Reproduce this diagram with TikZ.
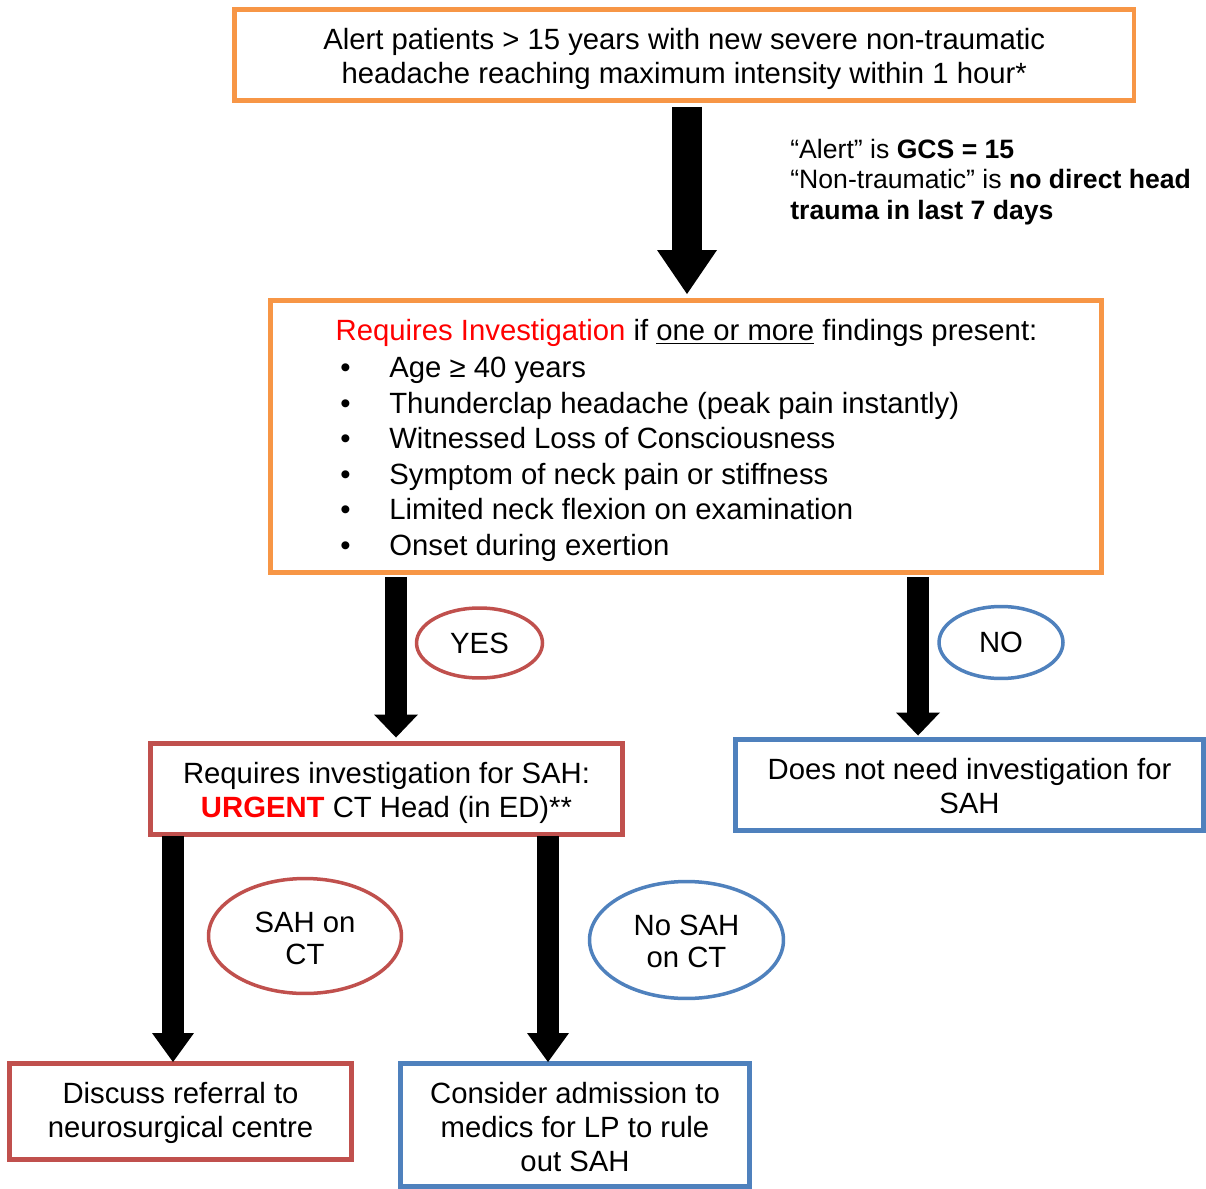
\documentclass[tikz,border=0pt]{standalone}
\usepackage{fontspec}
\setmainfont{Liberation Sans}
\usetikzlibrary{arrows.meta,shapes.geometric,calc}
\definecolor{orangeb}{HTML}{F79646}
\definecolor{redb}{HTML}{C0504D}
\definecolor{blueb}{HTML}{4F81BD}
\definecolor{hotred}{HTML}{FF0000}
\newcommand\fsmain{\fontsize{16.67}{19.35}\selectfont}
\newcommand\fslist{\fontsize{16.67}{20.26}\selectfont}
\newcommand\fsoval{\fontsize{16.67}{18.21}\selectfont}
\newcommand\fsnote{\fontsize{15.14}{17.36}\selectfont}
\begin{document}
\begin{tikzpicture}[x=0.02cm,y=-0.02cm,
  box/.style={draw, line width=0.09cm, rectangle, inner sep=0pt, outer sep=0pt, align=center, font=\fsmain},
  boxtext/.style={align=center, font=\fsmain, inner sep=0pt},
  oval/.style={draw, ellipse, line width=0.07cm, inner sep=0pt, outer sep=0pt, align=center, font=\fsoval},
  bigarrow/.style={line width=0.6cm, -{Triangle[width=1.2cm,length=0.88cm,line width=0pt]}},
  midarrow/.style={line width=0.44cm, -{Triangle[width=0.88cm,length=0.46cm,line width=0pt]}},
  lowarrow/.style={line width=0.43cm, -{Triangle[width=0.84cm,length=0.58cm,line width=0pt]}},
]
\fill[white] (0,0) rectangle (1206,1189);
\useasboundingbox (0,0) rectangle (1206,1189);

% boxes
\node[box, draw=orangeb, minimum width=17.99cm, minimum height=1.82cm,
  label={[boxtext, yshift=-0.08cm]center:{Alert patients > 15 years with new severe non-traumatic\\headache reaching maximum intensity within 1 hour*}}] (b1) at (684.25,55) {};
\node[box, draw=orangeb, minimum width=16.62cm, minimum height=5.44cm] (b2) at (686,436.5) {};
\node[font=\fsmain, inner sep=0pt, anchor=base] (b2head) at (686.5,340.5)
  {\textcolor{hotred}{Requires Investigation} if \underline{one or more} findings present:};
\node[font=\fslist, inner sep=0pt, anchor=base west, align=left] (b2list) at (340,555.5)
  {\makebox[0.98cm][l]{\textbullet}Age ≥ 40 years\\
   \makebox[0.98cm][l]{\textbullet}Thunderclap headache (peak pain instantly)\\
   \makebox[0.98cm][l]{\textbullet}Witnessed Loss of Consciousness\\
   \makebox[0.98cm][l]{\textbullet}Symptom of neck pain or stiffness\\
   \makebox[0.98cm][l]{\textbullet}Limited neck flexion on examination\\
   \makebox[0.98cm][l]{\textbullet}Onset during exertion};

\node[font=\fsnote, inner sep=0pt, anchor=base west, align=left] (note) at (790,219.5)
  {“Alert” is \textbf{GCS = 15}\\
   “Non-traumatic” is \textbf{no direct head}\\
   \textbf{trauma in last 7 days}};

\node[box, draw=redb, minimum width=9.44cm, minimum height=1.82cm,
  label={[boxtext, yshift=-0.08cm]center:{Requires investigation for SAH:\\\textcolor{hotred}{\bfseries URGENT} CT Head (in ED)**}}] (sah) at (386.5,789) {};
\node[box, draw=blueb, minimum width=9.36cm, minimum height=1.82cm,
  label={[boxtext, yshift=-0.02cm]center:{Does not need investigation for\\SAH}}] (noneed) at (969.5,785) {};
\node[box, draw=redb, minimum width=6.84cm, minimum height=1.92cm,
  label={[boxtext, yshift=-0.02cm]center:{Discuss referral to\\neurosurgical centre}}] (disc) at (180.5,1111.5) {};
\node[box, draw=blueb, minimum width=6.98cm, minimum height=2.46cm,
  label={[boxtext, yshift=-0.04cm]center:{Consider admission to\\medics for LP to rule\\out SAH}}] (cons) at (575,1125) {};

% ovals
\node[oval, draw=redb, minimum width=2.52cm, minimum height=1.40cm] (yes) at (479.5,643) {YES};
\node[oval, draw=blueb, minimum width=2.48cm, minimum height=1.44cm] (no) at (1001,642.5) {NO};
\node[oval, draw=redb, minimum width=3.86cm, minimum height=2.30cm,
  label={[align=center, font=\fsoval, inner sep=0pt, yshift=-0.04cm]center:{SAH on\\CT}}] (sahct) at (305,936) {};
\node[oval, draw=blueb, minimum width=3.88cm, minimum height=2.34cm,
  label={[align=center, font=\fsoval, inner sep=0pt, yshift=-0.02cm]center:{No SAH\\on CT}}] (nosah) at (686.5,940) {};

% arrow x positions
\coordinate (x1) at (687,0);
\coordinate (x2) at (396,0);
\coordinate (x3) at (918,0);
\coordinate (x4) at (173,0);
\coordinate (x5) at (548,0);

\draw[bigarrow] ($(b1.south -| x1)+(0,6.5)$) -- ($(b2.north -| x1)+(0,-6.5)$);
\draw[midarrow] ($(b2.south -| x2)+(0,4.5)$) -- ($(sah.north -| x2)+(0,-6)$);
\draw[midarrow] ($(b2.south -| x3)+(0,4.5)$) -- ($(noneed.north -| x3)+(0,-4)$);
\draw[lowarrow] ($(sah.south -| x4)+(0,2)$) -- ($(disc.north -| x4)+(0,-1.5)$);
\draw[lowarrow] ($(sah.south -| x5)+(0,2)$) -- ($(cons.north -| x5)+(0,-1.5)$);
\end{tikzpicture}
\end{document}
